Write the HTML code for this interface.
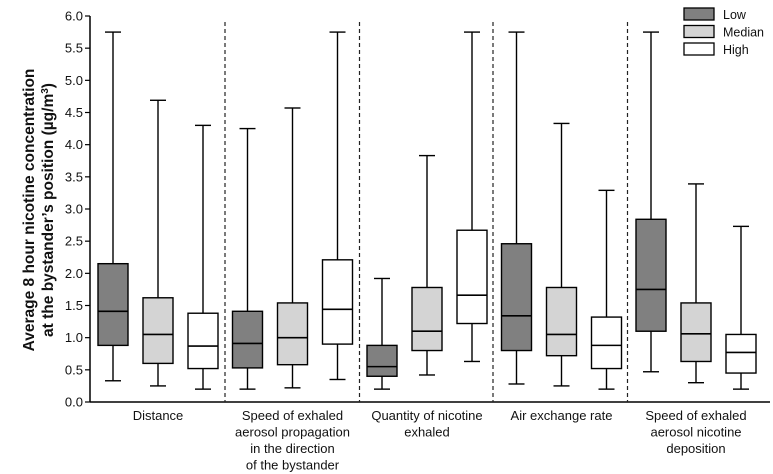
<!DOCTYPE html>
<html><head><meta charset="utf-8"><style>
body{margin:0;background:#fff}
svg{display:block;font-family:"Liberation Sans",Arial,sans-serif}
</style></head><body>
<svg id="chart" width="773" height="474" viewBox="0 0 773 474"></svg>
<script>
const categories=["Distance","Speed of exhaled|aerosol propagation|in the direction|of the bystander","Quantity of nicotine|exhaled","Air exchange rate","Speed of exhaled|aerosol nicotine|deposition"];
const seriesNames=["Low","Median","High"];
const seriesColors=["#808080","#d4d4d4","#ffffff"];
// [min,q1,median,q3,max]
const lowData=[[0.33,0.88,1.41,2.15,5.75],[0.2,0.53,0.91,1.41,4.25],[0.2,0.4,0.55,0.88,1.92],[0.28,0.8,1.34,2.46,5.75],[0.47,1.1,1.75,2.84,5.75]];
const medianData=[[0.25,0.6,1.05,1.62,4.69],[0.22,0.58,1.0,1.54,4.57],[0.42,0.8,1.1,1.78,3.83],[0.25,0.72,1.05,1.78,4.33],[0.3,0.63,1.06,1.54,3.39]];
const highData=[[0.2,0.52,0.87,1.38,4.3],[0.35,0.9,1.44,2.21,5.75],[0.63,1.22,1.66,2.67,5.75],[0.2,0.52,0.88,1.32,3.29],[0.2,0.45,0.77,1.05,2.73]];
const yTicks=["0.0","0.5","1.0","1.5","2.0","2.5","3.0","3.5","4.0","4.5","5.0","5.5","6.0"];
const yMax=6;

const NS="http://www.w3.org/2000/svg";
const svg=document.getElementById('chart');
const x0=90,xEnd=770,yTop=16,yBot=402;
function y(v){return yBot-(v/yMax)*(yBot-yTop);}
const groupW=134.5,firstC=113,boxOff=45,bw=30;
function xc(g,s){return firstC+g*groupW+s*boxOff;}
function mk(tag,attrs,parent){const e=document.createElementNS(NS,tag);for(const k in attrs)e.setAttribute(k,attrs[k]);(parent||svg).appendChild(e);return e;}

let ax=mk('line',{x1:x0,y1:yBot,x2:xEnd,y2:yBot,stroke:'#000','stroke-width':1.5});


let ay=mk('line',{x1:x0,y1:yTop,x2:x0,y2:yBot,stroke:'#000','stroke-width':1.5});


yTicks.forEach(t=>{
  const v=parseFloat(t);
  const tk=mk('line',{x1:x0-5,y1:y(v),x2:x0,y2:y(v),stroke:'#000','stroke-width':1.2});
  
  
  const tx=mk('text',{x:x0-7,y:y(v)+4.5,'text-anchor':'end','font-size':13,fill:'#111'});
  tx.textContent=t;
  
  
});
const yt=mk('text',{transform:'translate(34,210) rotate(-90)','text-anchor':'middle','font-size':15.5,'font-weight':'bold',fill:'#111'});
yt.textContent='Average 8 hour nicotine concentration';


const yt2=mk('text',{transform:'translate(53,210) rotate(-90)','text-anchor':'middle','font-size':15.5,'font-weight':'bold',fill:'#111'});
yt2.innerHTML='at the bystander\u2019s position (\u00b5g/m<tspan font-size="10" dy="-5">3</tspan><tspan dy="5">)</tspan>';



for(let g=1;g<categories.length;g++){
  const sx=firstC+g*groupW-22.5-(g>2?1:0);
  const sl=mk('line',{x1:sx,y1:yTop+6,x2:sx,y2:yBot,stroke:'#222','stroke-width':1.2,'stroke-dasharray':'4,3'});
  
  
}
const all=[lowData,medianData,highData];
categories.forEach((c,g)=>{
  all.forEach((ser,s)=>{
    const d=ser[g],cx=xc(g,s);
    const grp=mk('g',{});
    
    
    mk('line',{x1:cx,y1:y(d[0]),x2:cx,y2:y(d[4]),stroke:'#000','stroke-width':1.4},grp);
    mk('line',{x1:cx-8,y1:y(d[0]),x2:cx+8,y2:y(d[0]),stroke:'#000','stroke-width':1.4},grp);
    mk('line',{x1:cx-8,y1:y(d[4]),x2:cx+8,y2:y(d[4]),stroke:'#000','stroke-width':1.4},grp);
    mk('rect',{x:cx-bw/2,y:y(d[3]),width:bw,height:y(d[1])-y(d[3]),fill:seriesColors[s],stroke:'#000','stroke-width':1.4},grp);
    mk('line',{x1:cx-bw/2,y1:y(d[2]),x2:cx+bw/2,y2:y(d[2]),stroke:'#000','stroke-width':1.6},grp);
  });
  const lines=c.split('|');
  const t=mk('text',{x:xc(g,1),y:420,'text-anchor':'middle','font-size':13,fill:'#111'});
  
  
  lines.forEach((l,i)=>{const ts=mk('tspan',{x:xc(g,1),dy:i?16.5:0},t);ts.textContent=l;});
});
seriesNames.forEach((n,i)=>{
  const ly=8+i*17.5;
  const r=mk('rect',{x:684,y:ly,width:30,height:12,fill:seriesColors[i],stroke:'#000','stroke-width':1.3});
  
  
  const t=mk('text',{x:723,y:ly+11,'font-size':12.5,fill:'#111'});
  t.textContent=n;
  
  
});
</script>
</body></html>
